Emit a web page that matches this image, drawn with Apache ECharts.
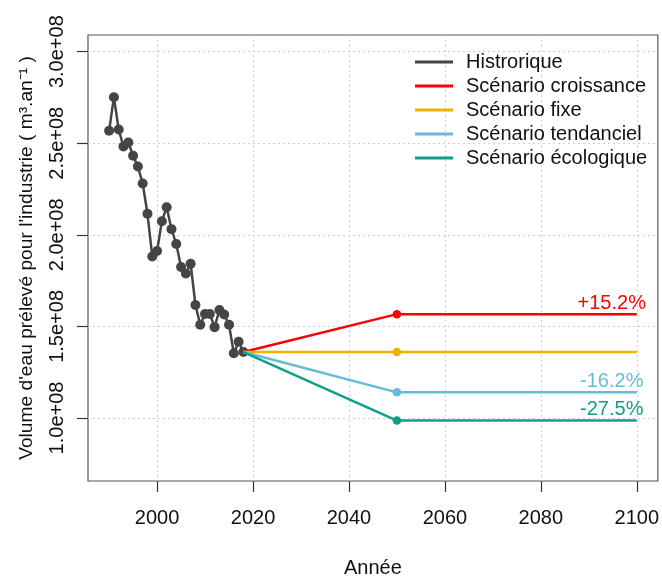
<!DOCTYPE html>
<html><head><meta charset="utf-8">
<script src="https://cdn.jsdelivr.net/npm/echarts@6/dist/echarts.min.js"></script>
<style>html,body{margin:0;padding:0;background:#fff}#c{width:662px;height:583px}</style>
</head><body><div id="c"></div>
<script>
// ---- data ----
const histYears = [1990,1991,1992,1993,1994,1995,1996,1997,1998,1999,2000,2001,2002,2003,2004,2005,2006,2007,2008,2009,2010,2011,2012,2013,2014,2015,2016,2017,2018];
const histValues = [2.568e8,2.751e8,2.575e8,2.482e8,2.504e8,2.432e8,2.373e8,2.280e8,2.115e8,1.882e8,1.912e8,2.074e8,2.151e8,2.031e8,1.950e8,1.824e8,1.789e8,1.842e8,1.617e8,1.509e8,1.568e8,1.568e8,1.496e8,1.590e8,1.565e8,1.509e8,1.353e8,1.416e8,1.360e8];
const scenYears = [2018, 2050, 2100];
const croissance = [1.360e8, 1.567e8, 1.567e8];
const fixe = [1.360e8, 1.360e8, 1.360e8];
const tendanciel = [1.360e8, 1.140e8, 1.140e8];
const ecologique = [1.360e8, 0.986e8, 0.986e8];
const seriesNames = ['Histrorique', 'Scénario croissance', 'Scénario fixe', 'Scénario tendanciel', 'Scénario écologique'];
const scenLabels = ['+15.2%', '', '-16.2%', '-27.5%'];
const xTicks = [2000, 2020, 2040, 2060, 2080, 2100];
const yTicks = [1.0e8, 1.5e8, 2.0e8, 2.5e8, 3.0e8];

// ---- styles ----
const FONT = 'Liberation Sans, Arial, sans-serif';
const histColor = '#454545';
const scenColors = ['#FF0000', '#F4B000', '#64BCD9', '#0FA08A'];
const scenData = [croissance, fixe, tendanciel, ecologique];

const chart = echarts.init(document.getElementById('c'), null, {renderer: 'canvas'});

const series = [{
  name: seriesNames[0], type: 'line',
  data: histYears.map((y, i) => [y, histValues[i]]),
  symbol: 'circle', symbolSize: 10, showSymbol: true,
  lineStyle: {color: histColor, width: 2.5},
  itemStyle: {color: histColor},
  z: 2, animation: false
}];
scenData.forEach((vals, k) => {
  series.push({
    name: seriesNames[k + 1], type: 'line',
    data: scenYears.map((y, i) => {
      const item = {value: [y, vals[i]], symbol: 'circle', symbolSize: i === 1 ? 8.5 : 0.01};
      if (i === 2 && scenLabels[k]) {
        item.label = {show: true, formatter: scenLabels[k], position: 'top', distance: 1, offset: [-25, 0],
          color: scenColors[k], fontSize: 20, fontFamily: FONT};
      }
      return item;
    }),
    showSymbol: true,
    lineStyle: {color: scenColors[k], width: 2.5},
    itemStyle: {color: scenColors[k]},
    z: 3, animation: false
  });
});

chart.setOption({
  animation: false,
  textStyle: {fontFamily: FONT},
  grid: {left: 88, top: 35, right: 3, bottom: 95, show: true, borderColor: '#555', borderWidth: 1.2, containLabel: false},
  legend: {
    left: 410, top: 47, orient: 'vertical', icon: 'rect', itemWidth: 38, itemHeight: 3, itemGap: 4,
    data: seriesNames,
    textStyle: {fontSize: 20, color: '#111', fontFamily: FONT, lineHeight: 20, padding: [0, 0, 0, 8]}
  },
  xAxis: {
    type: 'value', min: 1985.6, max: 2104.4,
    name: 'Année', nameLocation: 'middle', nameGap: 77,
    nameTextStyle: {fontSize: 20, color: '#111', fontFamily: FONT},
    axisLine: {show: false},
    axisTick: {show: true, inside: false, length: 11, lineStyle: {color: '#333', width: 1.2}, customValues: xTicks},
    axisLabel: {customValues: xTicks, fontSize: 20, color: '#111', margin: 27, fontFamily: FONT,
      formatter: v => String(v)},
    splitLine: {show: true, lineStyle: {color: '#cfcfcf', type: [2, 3], width: 1}}
  },
  yAxis: {
    type: 'value', min: 0.656e8, max: 3.091e8,
    name: "Volume d'eau prélevé pour l'industrie ( m³.an⁻¹ )",
    nameLocation: 'middle', nameGap: 52, nameRotate: 90,
    nameTextStyle: {fontSize: 19.2, color: '#111', fontFamily: FONT},
    axisLine: {show: false},
    axisTick: {show: true, inside: false, length: 11, lineStyle: {color: '#333', width: 1.2}, customValues: yTicks},
    axisLabel: {customValues: yTicks, rotate: 90, fontSize: 20, color: '#111', margin: 21, fontFamily: FONT,
      formatter: v => v.toExponential(1).replace('e+', 'e+0')},
    splitLine: {show: true, lineStyle: {color: '#cfcfcf', type: [2, 3], width: 1}}
  },
  series: series
});
</script>
</body></html>
